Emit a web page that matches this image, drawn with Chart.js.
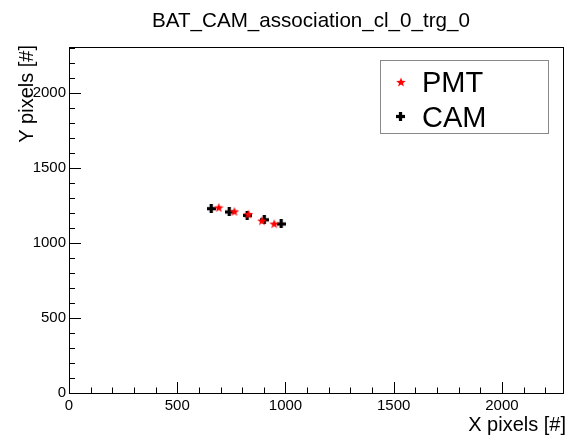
<!DOCTYPE html>
<html>
<head>
<meta charset="utf-8">
<script src="https://cdn.jsdelivr.net/npm/chart.js@4.4.0/dist/chart.umd.min.js"></script>
<style>
  html, body { margin: 0; padding: 0; background: #fff; }
  #wrap { width: 568px; height: 435px; }
</style>
</head>
<body>
<div id="wrap"><canvas id="chart"></canvas></div>
<script>
// 데이터
const pmtX = [692, 764, 829, 891, 948]
const pmtY = [1237, 1211, 1193, 1149, 1129]
const camX = [657, 740, 823, 902, 980]
const camY = [1229, 1207, 1184, 1155, 1127]

const xTicks = [0, 500, 1000, 1500, 2000]
const yTicks = [0, 500, 1000, 1500, 2000]

const chartTitle = 'BAT_CAM_association_cl_0_trg_0'
const xTitle = 'X pixels [#]'
const yTitle = 'Y pixels [#]'
const legendLabels = ['PMT', 'CAM']

const xMax = 2282
const yMax = 2307
const FONT = '"Liberation Sans", Arial, sans-serif'

// 마커 이미지 만들기 (ROOT 스타일 별 / 두꺼운 십자)
function makeStar(size, color) {
  const c = document.createElement('canvas')
  c.width = size; c.height = size
  const g = c.getContext('2d')
  const cx = size / 2, cy = size / 2 + 0.5
  const R = size / 2, r = R * 0.42
  g.beginPath()
  for (let i = 0; i < 10; i++) {
    const rad = i % 2 === 0 ? R : r
    const a = -Math.PI / 2 + i * Math.PI / 5
    g.lineTo(cx + rad * Math.cos(a), cy + rad * Math.sin(a))
  }
  g.closePath()
  g.fillStyle = color
  g.fill()
  return c
}
function makeCross(size, color) {
  const c = document.createElement('canvas')
  c.width = size; c.height = size
  const g = c.getContext('2d')
  const t = size * 0.36
  g.fillStyle = color
  g.fillRect((size - t) / 2, 0, t, size)
  g.fillRect(0, (size - t) / 2, size, t)
  return c
}
const starImg = makeStar(10, '#ff0000')
const crossImg = makeCross(9, '#000000')

const toPoints = (xs, ys) => xs.map((x, i) => ({ x: x, y: ys[i] }))

// 프레임, 눈금, 제목, 범례
const rootStyle = {
  id: 'rootStyle',
  afterDraw(chart) {
    const ctx = chart.ctx
    const a = chart.chartArea
    const xs = chart.scales.x
    const ys = chart.scales.y
    ctx.save()
    ctx.strokeStyle = '#000'
    ctx.lineWidth = 1
    ctx.strokeRect(Math.round(a.left) + 0.5, Math.round(a.top) + 0.5,
      Math.round(a.right - a.left), Math.round(a.bottom - a.top))

    ctx.beginPath()
    for (let v = 0; v <= xMax; v += 100) {
      const px = Math.round(xs.getPixelForValue(v)) + 0.5
      const len = v % 500 === 0 ? 11 : 5.5
      ctx.moveTo(px, a.bottom)
      ctx.lineTo(px, a.bottom - len)
    }
    for (let v = 0; v <= yMax; v += 100) {
      const py = Math.round(ys.getPixelForValue(v)) + 0.5
      const len = v % 500 === 0 ? 12 : 6
      ctx.moveTo(a.left, py)
      ctx.lineTo(a.left + len, py)
    }
    ctx.stroke()

    ctx.fillStyle = '#000'
    ctx.font = '20.6px ' + FONT
    ctx.textAlign = 'center'
    ctx.textBaseline = 'alphabetic'
    ctx.fillText(chartTitle, 311, 27)

    ctx.font = '20px ' + FONT
    ctx.textAlign = 'right'
    ctx.fillText(xTitle, 566, 431)

    ctx.save()
    ctx.translate(33, 45)
    ctx.rotate(-Math.PI / 2)
    ctx.textAlign = 'right'
    ctx.fillText(yTitle, 0, 0)
    ctx.restore()

    // 범례
    ctx.fillStyle = '#fff'
    ctx.fillRect(381, 61, 168, 73)
    ctx.strokeStyle = '#888'
    ctx.strokeRect(380.5, 60.5, 168, 73)
    ctx.drawImage(starImg, 396, 77)
    ctx.drawImage(crossImg, 396, 112)
    ctx.fillStyle = '#000'
    ctx.font = '29px ' + FONT
    ctx.textAlign = 'left'
    ctx.textBaseline = 'alphabetic'
    ctx.fillText(legendLabels[0], 422, 92)
    ctx.fillText(legendLabels[1], 422, 127)
    ctx.restore()
  }
}

const data = {
  datasets: [{
    label: legendLabels[0],
    data: toPoints(pmtX, pmtY),
    pointStyle: starImg,
    borderColor: '#ff0000',
    backgroundColor: '#ff0000',
  }, {
    label: legendLabels[1],
    data: toPoints(camX, camY),
    pointStyle: crossImg,
    borderColor: '#000',
    backgroundColor: '#000',
  }]
}

const config = {
  type: 'scatter',
  data: data,
  options: {
    responsive: true,
    maintainAspectRatio: false,
    animation: false,
    layout: { padding: { top: 47, right: 5, left: 0, bottom: 0 } },
    plugins: { legend: { display: false }, tooltip: { enabled: false } },
    scales: {
      x: {
        type: 'linear',
        min: 0,
        max: xMax,
        grid: { display: false, drawTicks: false },
        border: { display: false },
        afterBuildTicks(scale) { scale.ticks = xTicks.map(v => ({ value: v })) },
        ticks: {
          maxRotation: 0,
          autoSkip: false,
          padding: 4,
          color: '#000',
          font: { family: FONT, size: 15 },
          callback: v => String(v),
        },
        afterFit(scale) { scale.height = 42 }
      },
      y: {
        type: 'linear',
        min: 0,
        max: yMax,
        grid: { display: false, drawTicks: false },
        border: { display: false },
        afterBuildTicks(scale) { scale.ticks = yTicks.map(v => ({ value: v })) },
        ticks: {
          autoSkip: false,
          padding: 3,
          color: '#000',
          font: { family: FONT, size: 15 },
          callback: v => String(v),
        },
        afterFit(scale) { scale.width = 69 }
      }
    }
  },
  plugins: [rootStyle]
}

let myChart = new Chart(document.getElementById('chart'), config)
</script>
</body>
</html>
